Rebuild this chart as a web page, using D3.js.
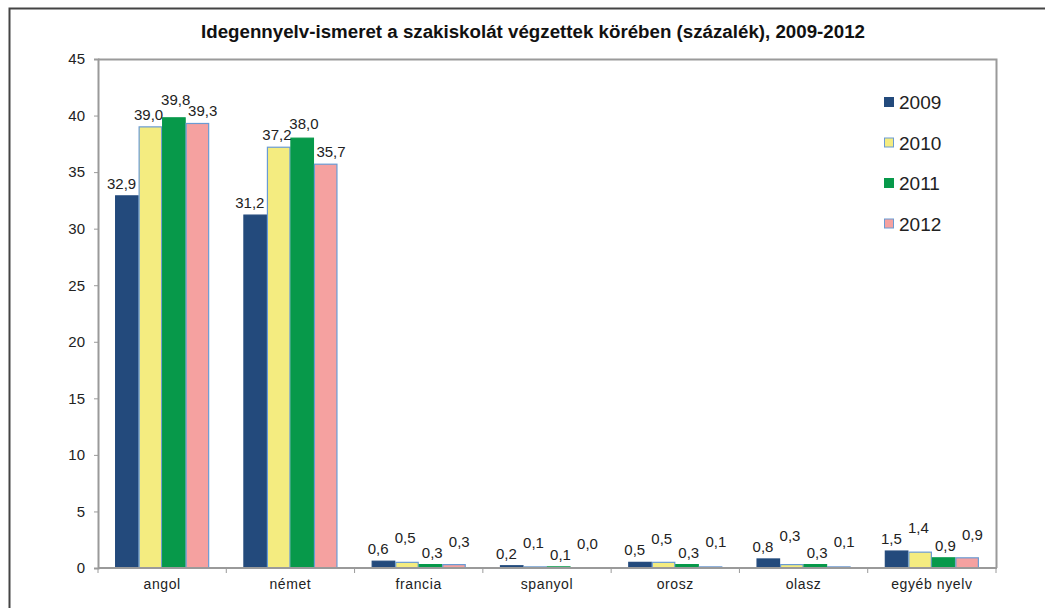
<!DOCTYPE html>
<html>
<head>
<meta charset="utf-8">
<script src="https://cdn.jsdelivr.net/npm/d3@7"></script>
<style>
  body { margin: 0; background: #fff; }
  svg { display: block; font-family: "Liberation Sans", Arial, sans-serif; }
</style>
</head>
<body>
<svg id="chart" width="1045" height="608"></svg>
<script>
'use strict';

const categories = ['angol', 'német', 'francia', 'spanyol', 'orosz', 'olasz', 'egyéb nyelv'];
const years = ['2009', '2010', '2011', '2012'];
const values2009 = [32.9, 31.2, 0.6, 0.2, 0.5, 0.8, 1.5];
const values2010 = [39.0, 37.2, 0.5, 0.1, 0.5, 0.3, 1.4];
const values2011 = [39.8, 38.0, 0.3, 0.1, 0.3, 0.3, 0.9];
const values2012 = [39.3, 35.7, 0.3, 0.0, 0.1, 0.1, 0.9];
const yTicks = [0, 5, 10, 15, 20, 25, 30, 35, 40, 45];
const title = 'Idegennyelv-ismeret a szakiskolát végzettek körében (százalék), 2009-2012';

const colors = ['#234a7c', '#f4ec80', '#07994a', '#f5a1a0'];
const strokes = ['#234a7c', '#6a9bd3', '#07994a', '#6a9bd3'];

const series = [values2009, values2010, values2011, values2012];

const svg = d3.select('#chart');
const width = +svg.attr('width');
const height = +svg.attr('height');
const margin = { top: 59, left: 98 };
const plotRight = 996;
const plotBottom = 568;

// outer frame (right and bottom edges are off the picture)
svg.append('path')
    .attr('d', `M9.5,${height + 5} V8.5 H${width + 5}`)
    .attr('fill', 'none')
    .attr('stroke', '#444')
    .attr('stroke-width', 2);

svg.append('text')
    .attr('x', 533)
    .attr('y', 38)
    .attr('text-anchor', 'middle')
    .attr('font-weight', 'bold')
    .attr('font-size', 18)
    .attr('textLength', 664)
    .attr('lengthAdjust', 'spacingAndGlyphs')
    .attr('fill', '#111')
    .text(title);

const x0 = d3.scaleBand()
    .domain(categories)
    .range([margin.left, plotRight])
    .paddingInner(0.267)
    .paddingOuter(0.1335);

const x1 = d3.scaleBand()
    .domain(years)
    .range([0, x0.bandwidth()]);

const y = d3.scaleLinear()
    .domain([0, 45])
    .range([plotBottom, margin.top]);

// plot frame top + right
svg.append('path')
    .attr('d', `M${margin.left},${margin.top + 0.5} H${plotRight + 0.5} V${plotBottom}`)
    .attr('fill', 'none')
    .attr('stroke', '#9a9a9a')
    .attr('stroke-width', 2);

// bars
const groups = svg.append('g').selectAll('g')
    .data(categories)
    .join('g')
    .attr('transform', d => `translate(${x0(d)},0)`);

groups.selectAll('rect')
    .data((c, ci) => years.map((yr, si) => ({ yr, si, v: series[si][ci] })))
    .join('rect')
    .attr('x', d => x1(d.yr) + 0.5)
    .attr('y', d => y(d.v))
    .attr('width', x1.bandwidth() - 1)
    .attr('height', d => plotBottom - y(d.v))
    .attr('fill', d => colors[d.si])
    .attr('stroke', d => strokes[d.si])
    .attr('stroke-width', 1.2);

// y axis
const yAxis = svg.append('g')
    .attr('transform', `translate(${margin.left},0)`)
    .call(d3.axisLeft(y).tickValues(yTicks).tickSize(4).tickPadding(9).tickFormat(d3.format('d')));
yAxis.select('.domain').attr('stroke', '#9a9a9a').attr('stroke-width', 2);
yAxis.selectAll('.tick line').attr('stroke', '#9a9a9a');
yAxis.selectAll('.tick text')
    .attr('font-size', 15)
    .attr('font-family', '"Liberation Sans", Arial, sans-serif')
    .attr('fill', '#222');

// x axis with ticks between categories
const xAxis = svg.append('g')
    .attr('transform', `translate(0,${plotBottom})`);
xAxis.append('line')
    .attr('x1', margin.left).attr('x2', plotRight + 1)
    .attr('stroke', '#9a9a9a').attr('stroke-width', 2);
const bounds = categories.map(c => x0(c) - x0.step() * x0.paddingInner() / 2).concat([plotRight]);
xAxis.selectAll('line.tk')
    .data(bounds)
    .join('line')
    .attr('class', 'tk')
    .attr('x1', d => d).attr('x2', d => d)
    .attr('y1', 0).attr('y2', 5)
    .attr('stroke', '#9a9a9a');
xAxis.selectAll('text')
    .data(categories)
    .join('text')
    .attr('x', d => x0(d) + x0.bandwidth() / 2)
    .attr('y', 21)
    .attr('text-anchor', 'middle')
    .attr('font-size', 14)
    .attr('letter-spacing', 0.6)
    .attr('fill', '#222')
    .text(d => d);

// value labels: spread a little wider than the bars, lifted clear of
// both neighbours when they would collide with the previous one
const fmt = d3.format('.1f');
const spread = 1.15;
const gap = 10;
categories.forEach((c, ci) => {
    const mid = x0(c) + x0.bandwidth() / 2;
    const natural = years.map((yr, si) => y(series[si][ci]) - 7);
    let prevBy = null;
    years.forEach((yr, si) => {
        const v = series[si][ci];
        const barC = x0(c) + x1(yr) + x1.bandwidth() / 2;
        const cx = mid + (barC - mid) * spread;
        let by = natural[si];
        if (prevBy !== null && Math.abs(by - prevBy) < gap) {
            let top = prevBy;
            const nxt = natural[si + 1];
            if (nxt !== undefined && Math.abs(nxt - by) < gap) top = Math.min(top, nxt);
            by = top - 11;
        }
        prevBy = by;
        svg.append('text')
            .attr('x', cx)
            .attr('y', by)
            .attr('text-anchor', 'middle')
            .attr('font-size', 15)
            .attr('fill', '#222')
            .text(fmt(v).replace('.', ','));
    });
});

// legend
const legend = svg.append('g')
    .selectAll('g')
    .data(years)
    .join('g')
    .attr('transform', (d, i) => `translate(884,${97 + i * 40.5})`);
legend.append('rect')
    .attr('x', 0.5).attr('y', 0.5)
    .attr('width', 9).attr('height', 9)
    .attr('fill', (d, i) => colors[i])
    .attr('stroke', (d, i) => strokes[i]);
legend.append('text')
    .attr('x', 15)
    .attr('y', 12)
    .attr('font-size', 19)
    .attr('fill', '#222')
    .text(d => d);
</script>
</body>
</html>
